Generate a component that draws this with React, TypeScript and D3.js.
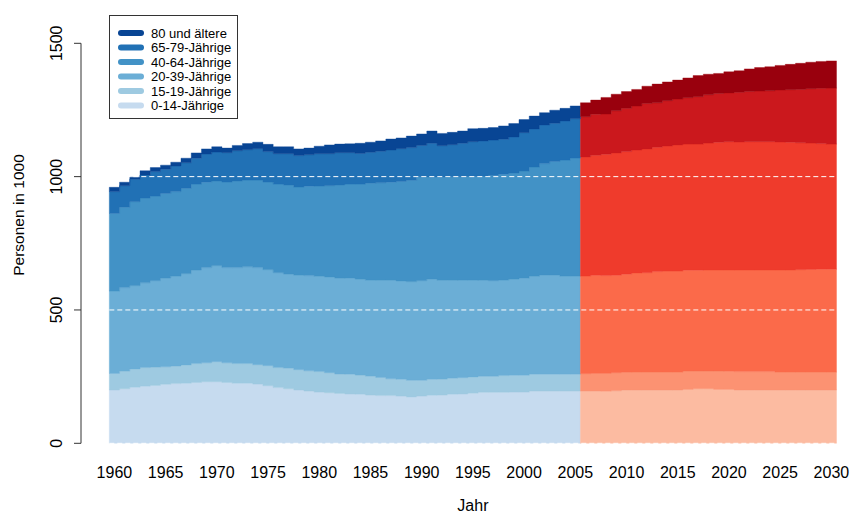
import React, { useEffect, useRef } from "react";
import * as d3 from "d3";

// year categories and tick labels
const firstYear = 1960;
const lastHistYear = 2005;
const tickYears = [1960, 1965, 1970, 1975, 1980, 1985, 1990, 1995, 2000, 2005, 2010, 2015, 2020, 2025, 2030];
const yTicks = [0, 500, 1000, 1500];
const gridLines = [0, 500, 1000, 1500];

// persons in 1000, one value per year 1960..2030
const age0to14 = [
  200, 205, 210, 214, 217, 221, 224, 225, 228, 231,
  231, 228, 225, 225, 222, 216, 209, 205, 200, 196,
  192, 190, 187, 185, 184, 181, 179, 179, 177, 174,
  177, 180, 181, 184, 185, 188, 191, 191, 191, 192,
  192, 196, 196, 196, 196, 196, 196, 196, 195, 197,
  200, 200, 200, 200, 200, 200, 202, 205, 205, 202,
  202, 200, 200, 200, 200, 200, 200, 200, 200, 200, 200,
];
const age15to19 = [
  62, 66, 69, 70, 69, 66, 66, 69, 71, 71,
  75, 74, 74, 74, 73, 75, 75, 77, 76, 76,
  77, 75, 73, 74, 72, 71, 68, 63, 63, 62,
  59, 60, 60, 60, 61, 61, 60, 60, 63, 63,
  63, 63, 63, 63, 63, 63, 65, 66, 67, 68,
  66, 67, 67, 67, 67, 67, 69, 66, 66, 69,
  68, 69, 69, 69, 69, 67, 67, 67, 67, 67, 67,
];
const age20to39 = [
  309, 313, 312, 318, 324, 333, 337, 342, 351, 357,
  360, 357, 360, 363, 364, 360, 356, 353, 355, 357,
  357, 359, 360, 360, 360, 360, 364, 369, 369, 370,
  374, 375, 370, 367, 366, 363, 360, 359, 358, 361,
  364, 367, 371, 371, 368, 368, 366, 368, 367, 365,
  368, 372, 373, 377, 379, 379, 378, 378, 379, 379,
  380, 381, 381, 381, 381, 383, 383, 384, 385, 386, 386,
];
const age40to64 = [
  291, 301, 315, 318, 317, 317, 317, 320, 322, 320,
  318, 321, 325, 325, 328, 329, 332, 334, 330, 335,
  339, 342, 349, 353, 356, 363, 366, 368, 373, 380,
  390, 384, 388, 389, 388, 389, 391, 394, 397, 398,
  402, 410, 419, 427, 435, 443, 447, 450, 455, 459,
  460, 461, 464, 466, 469, 473, 473, 473, 476, 479,
  481, 480, 481, 481, 481, 480, 479, 476, 474, 471, 469,
];
const age65to79 = [
  82, 81, 84, 86, 92, 91, 96, 96, 97, 106,
  108, 110, 113, 114, 118, 114, 114, 117, 118, 118,
  121, 120, 121, 118, 115, 116, 118, 121, 123, 123,
  117, 126, 117, 120, 125, 130, 132, 133, 131, 135,
  144, 143, 145, 143, 147, 147, 151, 154, 151, 158,
  162, 165, 170, 167, 170, 172, 174, 178, 181, 183,
  183, 186, 188, 190, 191, 195, 197, 200, 204, 207, 210,
];
const age80plus = [
  16, 13, 8, 16, 15, 15, 14, 17, 20, 19,
  20, 17, 20, 23, 24, 27, 26, 26, 25, 25,
  28, 33, 32, 33, 38, 38, 39, 41, 40, 43,
  43, 46, 46, 46, 46, 49, 47, 47, 50, 50,
  49, 48, 46, 49, 47, 48, 52, 53, 62, 62,
  63, 62, 65, 70, 70, 71, 74, 79, 77, 75,
  79, 81, 85, 88, 90, 92, 95, 98, 99, 101, 102,
];

const groups = ["0-14-Jährige", "15-19-Jährige", "20-39-Jährige", "40-64-Jährige", "65-79-Jährige", "80 und ältere"];
const seriesValues = [age0to14, age15to19, age20to39, age40to64, age65to79, age80plus];
const blues = ["#c6dbef", "#9ecae1", "#6baed6", "#4292c6", "#2171b5", "#084594"];
const reds = ["#fcbba1", "#fc9272", "#fb6a4a", "#ef3b2c", "#cb181d", "#99000d"];

const W = 851, H = 516;
const font = "'Liberation Sans', Arial, sans-serif";

export default function App() {
  const ref = useRef<SVGSVGElement>(null);

  useEffect(() => {
    const svg = d3.select(ref.current);
    svg.selectAll("*").remove();

    const rows = age0to14.map((_, i) => {
      const r: any = { year: firstYear + i };
      groups.forEach((g, k) => (r[g] = seriesValues[k][i]));
      return r;
    });
    const lastYear = rows[rows.length - 1].year;

    const x = d3.scaleLinear().domain([firstYear, lastYear + 1]).range([109.3, 836.5]);
    const y = d3.scaleLinear().domain([0, 1500]).range([443.3, 43.3]);

    const stacked = d3.stack().keys(groups)(rows);

    const area = d3.area<any>()
      .x(d => x(d.x))
      .y0(d => y(d.y0))
      .y1(d => y(d.y1))
      .curve(d3.curveStepAfter);

    const segment = (layer: any, from: number, to: number) => {
      const pts = layer
        .filter((d: any) => d.data.year >= from && d.data.year <= to)
        .map((d: any) => ({ x: d.data.year, y0: d[0], y1: d[1] }));
      const last = pts[pts.length - 1];
      pts.push({ x: last.x + 1, y0: last.y0, y1: last.y1 });
      return pts;
    };

    const g = svg.append("g");
    stacked.forEach((layer, k) => {
      g.append("path")
        .attr("d", area(segment(layer, firstYear, lastHistYear)))
        .attr("fill", blues[k])
        .attr("stroke", blues[k])
        .attr("stroke-width", 0.4);
      g.append("path")
        .attr("d", area(segment(layer, lastHistYear + 1, lastYear)))
        .attr("fill", reds[k])
        .attr("stroke", reds[k])
        .attr("stroke-width", 0.4);
    });

    // white dashed reference lines
    g.selectAll("line.grid")
      .data(gridLines)
      .join("line")
      .attr("class", "grid")
      .attr("x1", x(firstYear))
      .attr("x2", x(lastYear + 1))
      .attr("y1", d => y(d))
      .attr("y2", d => y(d))
      .attr("stroke", "#ffffff")
      .attr("stroke-width", 1)
      .attr("stroke-dasharray", "5,3");

    // y axis
    const ax = svg.append("g").attr("font-family", font);
    ax.append("line")
      .attr("x1", 81).attr("x2", 81)
      .attr("y1", y(0)).attr("y2", y(1500))
      .attr("stroke", "#333");
    ax.selectAll("line.tick")
      .data(yTicks)
      .join("line")
      .attr("class", "tick")
      .attr("x1", 74).attr("x2", 81)
      .attr("y1", d => y(d)).attr("y2", d => y(d))
      .attr("stroke", "#333");
    ax.selectAll("text.ylab")
      .data(yTicks)
      .join("text")
      .attr("class", "ylab")
      .attr("transform", d => `translate(62, ${y(d)}) rotate(-90)`)
      .attr("text-anchor", "middle")
      .attr("font-size", 16)
      .attr("fill", "#000")
      .text(d => d);

    // x tick labels at bar centres
    ax.selectAll("text.xlab")
      .data(tickYears)
      .join("text")
      .attr("class", "xlab")
      .attr("x", d => x(d + 0.5))
      .attr("y", 478)
      .attr("text-anchor", "middle")
      .attr("font-size", 16)
      .attr("fill", "#000")
      .text(d => d);

    ax.append("text")
      .attr("x", (x(firstYear) + x(lastYear + 1)) / 2)
      .attr("y", 511)
      .attr("text-anchor", "middle")
      .attr("font-size", 16)
      .attr("fill", "#000")
      .text("Jahr");

    ax.append("text")
      .attr("transform", "translate(24, 215) rotate(-90)")
      .attr("text-anchor", "middle")
      .attr("font-size", 15.5)
      .attr("fill", "#000")
      .text("Personen in 1000");

    // legend
    const lg = svg.append("g").attr("font-family", font);
    lg.append("rect")
      .attr("x", 109.5).attr("y", 15.5)
      .attr("width", 128).attr("height", 103)
      .attr("fill", "#fff")
      .attr("stroke", "#333");
    const order = groups.map((_, i) => groups.length - 1 - i);
    order.forEach((k, i) => {
      const ly = 33 + i * 14.5;
      lg.append("line")
        .attr("x1", 121).attr("x2", 141)
        .attr("y1", ly).attr("y2", ly)
        .attr("stroke", blues[k])
        .attr("stroke-width", 6)
        .attr("stroke-linecap", "round");
      lg.append("text")
        .attr("x", 151)
        .attr("y", ly + 4.5)
        .attr("font-size", 13)
        .attr("fill", "#000")
        .text(groups[k]);
    });
  }, []);

  return (
    <svg
      ref={ref}
      width={W}
      height={H}
      style={{ position: "absolute", left: 0, top: 0, background: "#fff" }}
    />
  );
}
